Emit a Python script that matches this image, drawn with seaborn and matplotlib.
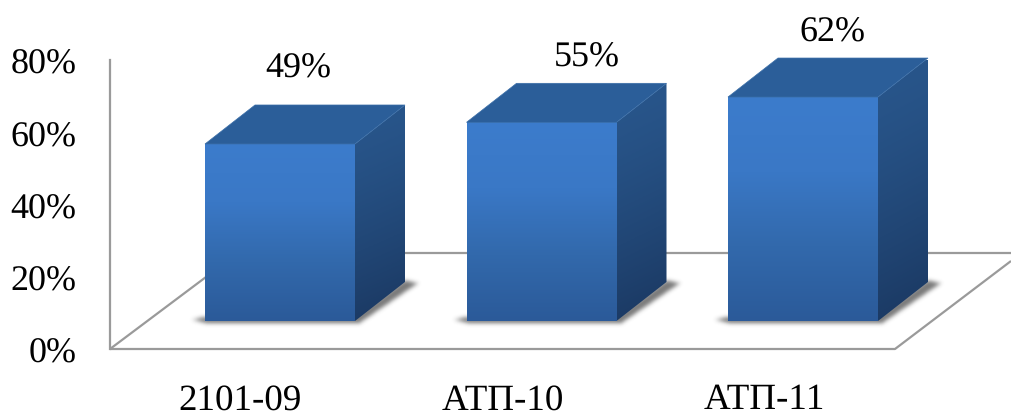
import numpy as np
import pandas as pd
import matplotlib
matplotlib.use("Agg")
import matplotlib.pyplot as plt
from matplotlib.colors import LinearSegmentedColormap
from matplotlib.patches import Polygon
from matplotlib.path import Path
from matplotlib.transforms import ScaledTranslation
import seaborn as sns

categories = ["2101-09", "АТП-10", "АТП-11"]
values = [49, 55, 62]
value_labels = ["49%", "55%", "62%"]
y_ticks = [0, 20, 40, 60, 80]

W, H = 1011, 417
AX_L, AX_R, AX_T, AX_B = 110, 1011, 60, 349
CAT0_PX, CAT_STEP_PX, BAR_W_PX = 280, 261.5, 150
BASE_PX = 321
DX, DY = 50, 39
LABEL_OFF = [(18, 75), (45, 64), (29, 64)]
TICK_OFF = [-40, -38.5, -39]
GRID = "#9a9a9a"

sns.set_theme(style="white")
plt.rcParams["font.family"] = ["Liberation Serif", "DejaVu Serif"]
plt.rcParams["text.hinting"] = "no_hinting"
plt.rcParams["text.hinting_factor"] = 1

fig = plt.figure(figsize=(W / 100, H / 100), dpi=100, facecolor="white")
ax = fig.add_axes([AX_L / W, 1 - AX_B / H, (AX_R - AX_L) / W, (AX_B - AX_T) / H])
xlim = ((AX_L - CAT0_PX) / CAT_STEP_PX, (AX_R - CAT0_PX) / CAT_STEP_PX)
ylim = (0, 80)
ppx = CAT_STEP_PX
ppy = (AX_B - AX_T) / (ylim[1] - ylim[0])
base = (AX_B - BASE_PX) / ppy
ddx, ddy = DX / ppx, DY / ppy

df = pd.DataFrame({"cat": categories, "val": values})
sns.barplot(data=df, x="cat", y="val", ax=ax, width=BAR_W_PX / CAT_STEP_PX,
            color="#3070b8", saturation=1, bottom=base, linewidth=0, zorder=3)
ax.set_xlim(*xlim)
ax.set_ylim(*ylim)
ax.set_xlabel("")
ax.set_ylabel("")


def px(x, y):
    return (x - CAT0_PX) / CAT_STEP_PX, (AX_B - y) / ppy


floor = [[(110, 349), (895, 349), (1011, 261)],
         [(110, 349), (238, 253)],
         [(238, 253), (1011, 253)]]
for seg in floor:
    pts = np.array([px(*p) for p in seg])
    ax.plot(pts[:, 0], pts[:, 1], color=GRID, lw=1.6, zorder=1, clip_on=False,
            solid_capstyle="butt")

front_cm = LinearSegmentedColormap.from_list("f", ["#3c7ccc", "#3a78c6", "#3269ac", "#2b5a99"])
side_cm = LinearSegmentedColormap.from_list("s", ["#28558a", "#1a3760"])


def blur(a, r=3):
    k = np.exp(-0.5 * (np.arange(-2 * r, 2 * r + 1) / (r * 0.7)) ** 2)
    k /= k.sum()
    a = np.apply_along_axis(lambda v: np.convolve(v, k, mode="same"), 0, a)
    return np.apply_along_axis(lambda v: np.convolve(v, k, mode="same"), 1, a)


bars = list(ax.patches)
for bar in bars:
    x0, x1 = bar.get_x(), bar.get_x() + bar.get_width()
    y0, y1 = bar.get_y(), bar.get_y() + bar.get_height()
    # soft shadow rasterised on a pixel grid
    l, r = x0 * ppx + CAT0_PX, x1 * ppx + CAT0_PX
    gx = np.arange(l - 30, r + DX + 30)
    gy = np.arange(BASE_PX - DY - 15, BASE_PX + 15)
    mx, my = np.meshgrid(gx, gy)
    poly = Path([(l - 12, BASE_PX - 1), (l, BASE_PX - 4), (r, BASE_PX - 4), (r + DX, BASE_PX - DY - 2),
                 (r + DX + 13, BASE_PX - DY + 1), (r + 5, BASE_PX + 2), (l, BASE_PX + 2)])
    mask = poly.contains_points(np.c_[mx.ravel(), my.ravel()]).reshape(mx.shape).astype(float)
    alpha = blur(mask) * 0.7
    rgba = np.zeros(mask.shape + (4,))
    rgba[..., :3] = 0.25
    rgba[..., 3] = alpha
    ex0, ey0 = px(gx[0], gy[-1])
    ex1, ey1 = px(gx[-1], gy[0])
    ax.imshow(rgba, extent=(ex0, ex1, ey0, ey1), aspect="auto", zorder=2, origin="upper",
              interpolation="bilinear", clip_on=False)
    # front gradient
    g = np.linspace(0, 1, 256).reshape(-1, 1)
    im = ax.imshow(g, cmap=front_cm, extent=(x0, x1, y0, y1), aspect="auto", zorder=4,
                   origin="upper")
    im.set_clip_path(bar)
    bar.set_clip_on(False)
    # side face
    side = Polygon([(x1, y0), (x1 + ddx, y0 + ddy), (x1 + ddx, y1 + ddy), (x1, y1)], closed=True,
                   facecolor="none", edgecolor="none", zorder=4, clip_on=False)
    ax.add_patch(side)
    xx, yy = np.meshgrid(np.linspace(0, 1, 64), np.linspace(0, 1, 256))
    sg = np.clip(yy * 1.0 + xx * 0.1 - 0.1, 0, 1) ** 1.3
    im2 = ax.imshow(sg, cmap=side_cm, vmin=0, vmax=1, extent=(x1, x1 + ddx, y0, y1 + ddy),
                    aspect="auto", zorder=4, origin="upper")
    im2.set_clip_path(side)
    # top face
    ax.add_patch(Polygon([(x0, y1), (x1, y1), (x1 + ddx, y1 + ddy), (x0 + ddx, y1 + ddy)], closed=True,
                         facecolor="#2b5e99", edgecolor="#3a6ea8", lw=0.5, zorder=4, clip_on=False))

ax.set_xlim(*xlim)
ax.set_ylim(*ylim)

for bar, lab, off in zip(bars, value_labels, LABEL_OFF):
    cx = bar.get_x() + bar.get_width() / 2
    top = bar.get_y() + bar.get_height()
    ax.annotate(lab, (cx, top), xytext=(off[0] * 0.72, off[1] * 0.72), textcoords="offset points",
                ha="center", va="center", fontsize=26, color="black", annotation_clip=False, zorder=6)

ax.set_yticks(y_ticks)
ax.set_yticklabels([f"{v}%" for v in y_ticks], fontsize=26, color="black")
ax.set_xticks([i + o / CAT_STEP_PX for i, o in enumerate(TICK_OFF)])
ax.set_xticklabels(categories, fontsize=26.5, color="black")
ax.tick_params(axis="y", length=0, pad=24)
ax.tick_params(axis="x", length=0, pad=25)
shift = ScaledTranslation(0, -1.5 / 100, fig.dpi_scale_trans)
for lab in ax.get_yticklabels():
    lab.set_transform(lab.get_transform() + shift)
sns.despine(ax=ax, left=False, bottom=True, top=True, right=True)
ax.spines["left"].set_color(GRID)
ax.spines["left"].set_linewidth(1.6)
ax.patch.set_alpha(0)

fig.savefig("out.png", dpi=100, facecolor="white")
